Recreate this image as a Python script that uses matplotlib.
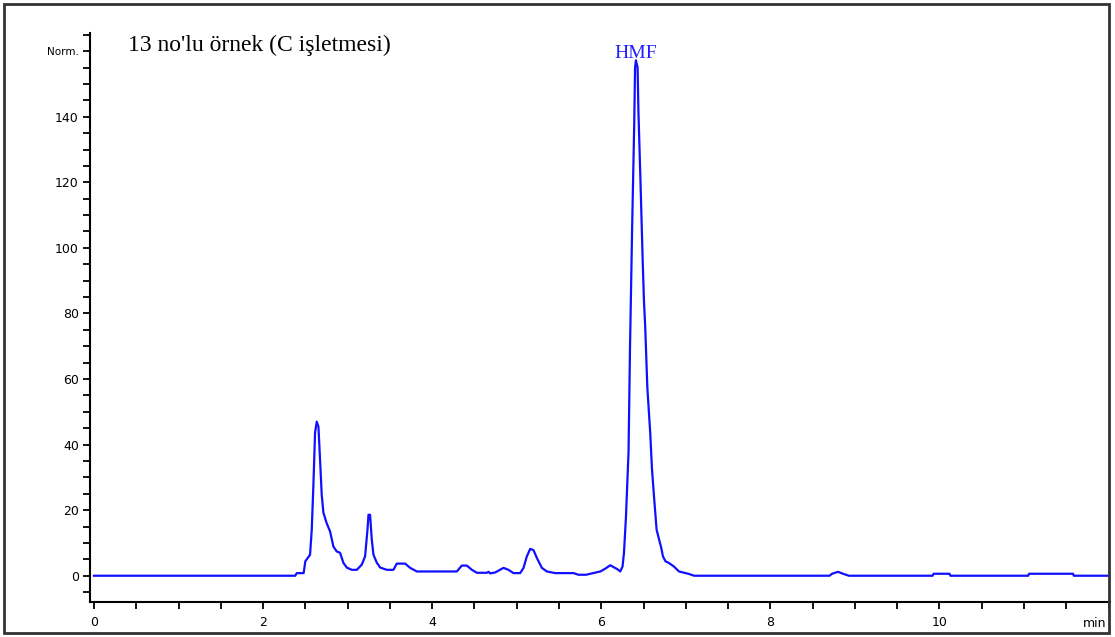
import matplotlib
matplotlib.use("Agg")
import matplotlib.pyplot as plt
from matplotlib.patches import Rectangle
from matplotlib.ticker import MultipleLocator

# retention time [min] and signal [Norm.]
time_min = [0.0, 2.38, 2.40, 2.48, 2.50, 2.556, 2.576, 2.596, 2.615, 2.635, 2.655, 2.675,
            2.694, 2.714, 2.753, 2.793, 2.832, 2.872, 2.911, 2.951, 2.99, 3.05, 3.109,
            3.168, 3.207, 3.235, 3.247, 3.266, 3.286, 3.306, 3.345, 3.385, 3.464, 3.542,
            3.582, 3.68, 3.74, 3.819, 4.292, 4.351, 4.41, 4.47, 4.529, 4.647, 4.667,
            4.686, 4.746, 4.844, 4.903, 4.962, 5.041, 5.081, 5.12, 5.16, 5.199, 5.239,
            5.298, 5.357, 5.456, 5.672, 5.73, 5.82, 5.87, 5.99, 6.05, 6.107, 6.19, 6.225,
            6.252, 6.269, 6.292, 6.323, 6.34, 6.365, 6.39, 6.40, 6.41, 6.43, 6.44, 6.465,
            6.49, 6.505, 6.52, 6.545, 6.58, 6.60, 6.625, 6.655, 6.685, 6.71, 6.73, 6.76,
            6.80, 6.86, 6.92, 7.03, 7.10, 8.70, 8.73, 8.80, 8.86, 8.93, 9.92, 9.93,
            10.12, 10.13, 11.05, 11.06, 11.58, 11.59, 12.0]
signal = [0, 0, 0.8, 0.8, 4.4, 6.4, 14, 28, 43.6, 47, 45.5, 35,
          24.7, 19.2, 16, 13.5, 8.9, 7.4, 7, 3.9, 2.5, 1.8, 1.8,
          3.4, 5.9, 14, 18.6, 18.6, 11, 6.4, 4, 2.5, 1.8, 1.8,
          3.7, 3.7, 2.4, 1.3, 1.3, 3.1, 3.1, 1.8, 0.9, 0.9, 1.2,
          0.7, 1.0, 2.4, 1.8, 0.8, 0.8, 2.4, 5.9, 8.2, 7.8, 5.4,
          2.4, 1.3, 0.8, 0.8, 0.3, 0.3, 0.6, 1.3, 2.2, 3.2, 2.0, 1.3,
          2.8, 7, 17.7, 37.8, 69, 105.5, 137.5, 155, 157.2, 155, 141.6, 119.5,
          96.4, 84, 76, 57.6, 43.3, 32.6, 23.9, 14, 11, 8.5, 5.9, 4.4,
          3.9, 2.8, 1.3, 0.6, 0, 0, 0.6, 1.2, 0.6, 0, 0, 0.6,
          0.6, 0, 0, 0.6, 0.6, 0, 0]

x_ticks = [0, 2, 4, 6, 8, 10]
y_ticks = [0, 20, 40, 60, 80, 100, 120, 140, 160]
y_labels = ['0', '20', '40', '60', '80', '100', '120', '140', 'Norm.']
title = "13 no'lu örnek (C işletmesi)"
peak_name = 'HMF'

fig = plt.figure(figsize=(11.15, 6.37), dpi=100)
ax = fig.add_axes([0.0807, 0.055, 0.915, 0.893])

ax.plot(time_min, signal, color='#1010ff', linewidth=1.6)

ax.set_xlim(-0.047, 12.02)
ax.set_ylim(-8, 165.5)
ax.set_xticks(x_ticks)
ax.set_yticks(y_ticks)
ax.set_yticklabels(y_labels)
ax.xaxis.set_minor_locator(MultipleLocator(0.5))
ax.yaxis.set_minor_locator(MultipleLocator(5))
ax.tick_params(which='both', direction='out', length=5, width=1.3, labelsize=9)
ax.tick_params(axis='x', pad=5)
ax.tick_params(axis='y', pad=3)
ax.get_yticklabels()[-1].set_fontsize(7.5)

for side in ['top', 'right']:
    ax.spines[side].set_visible(False)
for side in ['left', 'bottom']:
    ax.spines[side].set_linewidth(1.5)

ax.text(0.996, -0.026, 'min', transform=ax.transAxes, ha='right', va='top', fontsize=9)

# peak label above the apex
i_top = signal.index(max(signal))
ax.annotate(peak_name, xy=(time_min[i_top], signal[i_top]), xytext=(0, -1.5),
            textcoords='offset points', ha='center', va='bottom',
            fontsize=14, color='#2020ff', family='Liberation Serif')

fig.text(0.115, 0.928, title, fontsize=17, family='Liberation Serif', va='center')

# outer frame
fig.patches.append(Rectangle((0.004, 0.006), 0.991, 0.988, transform=fig.transFigure,
                             fill=False, edgecolor='#333333', linewidth=2))

plt.savefig('out.png', dpi=100)
